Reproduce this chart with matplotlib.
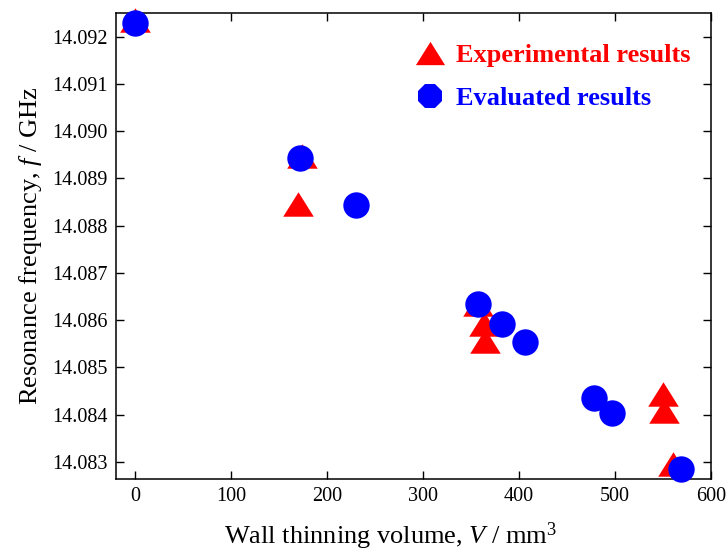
import numpy as np
import matplotlib
matplotlib.use('Agg')
import matplotlib.pyplot as plt
from matplotlib.ticker import FormatStrFormatter, MultipleLocator
from matplotlib.lines import Line2D

plt.rcParams['font.family'] = ['Liberation Serif', 'DejaVu Serif']
plt.rcParams['mathtext.fontset'] = 'custom'
plt.rcParams['mathtext.rm'] = 'Liberation Serif'
plt.rcParams['mathtext.it'] = 'Liberation Serif:italic'

# experimental results (red triangles)
volume_exp = [0, 174, 170, 357, 363, 364, 550, 551, 560]
freq_exp = [14.09236, 14.08948, 14.08845, 14.08635, 14.08593, 14.08556, 14.08443, 14.08408, 14.08295]

# evaluated results (blue circles)
volume_eval = [0, 172, 230, 357, 382, 406, 478, 497, 569]
freq_eval = [14.09228, 14.08943, 14.08843, 14.08635, 14.08593, 14.08553, 14.08435, 14.08404, 14.08286]

labels = ['Experimental results', 'Evaluated results']
colors = ['red', 'blue']

# slightly flattened triangle, like the original marker
tri = [(-1, -0.8), (1, -0.8), (0, 0.8), (-1, -0.8)]

fig = plt.figure(figsize=(7.26, 5.54), dpi=100)
ax = fig.add_axes([0.1598, 0.1354, 0.8195, 0.8411])

ax.plot(volume_exp, freq_exp, linestyle='none', marker=tri, markersize=22,
        color=colors[0], markeredgewidth=0, clip_on=False, zorder=3)
ax.plot(volume_eval, freq_eval, linestyle='none', marker='o', markersize=19,
        color=colors[1], markeredgewidth=0, clip_on=False, zorder=4)

ax.set_xlim(-20, 600)
ax.set_ylim(14.08264, 14.0925)
ax.xaxis.set_major_locator(MultipleLocator(100))
ax.yaxis.set_major_locator(MultipleLocator(0.001))
ax.yaxis.set_major_formatter(FormatStrFormatter('%.3f'))

ax.tick_params(direction='in', length=6, width=1, labelsize=14.5,
               top=True, right=True, pad=6)
for s in ax.spines.values():
    s.set_linewidth(1.1)

ax.set_xlabel(r'Wall thinning volume, $V$ / mm$^3$', fontsize=19)
ax.xaxis.set_label_coords(0.462, -0.09)
ax.set_ylabel(r'Resonance frequency, $f$ / GHz', fontsize=19, labelpad=6)

handles = [Line2D([], [], linestyle='none', marker=tri, markersize=21, color=colors[0], markeredgewidth=0),
           Line2D([], [], linestyle='none', marker='8', markersize=19, color=colors[1], markeredgewidth=0)]
leg = ax.legend(handles, labels, loc='upper left', bbox_to_anchor=(0.461, 0.985), frameon=False,
                prop={'size': 19, 'weight': 'bold'}, handlelength=1.2, handletextpad=0.4,
                labelspacing=0.75)
for t, c in zip(leg.get_texts(), colors):
    t.set_color(c)

fig.savefig('out.png', dpi=100)
